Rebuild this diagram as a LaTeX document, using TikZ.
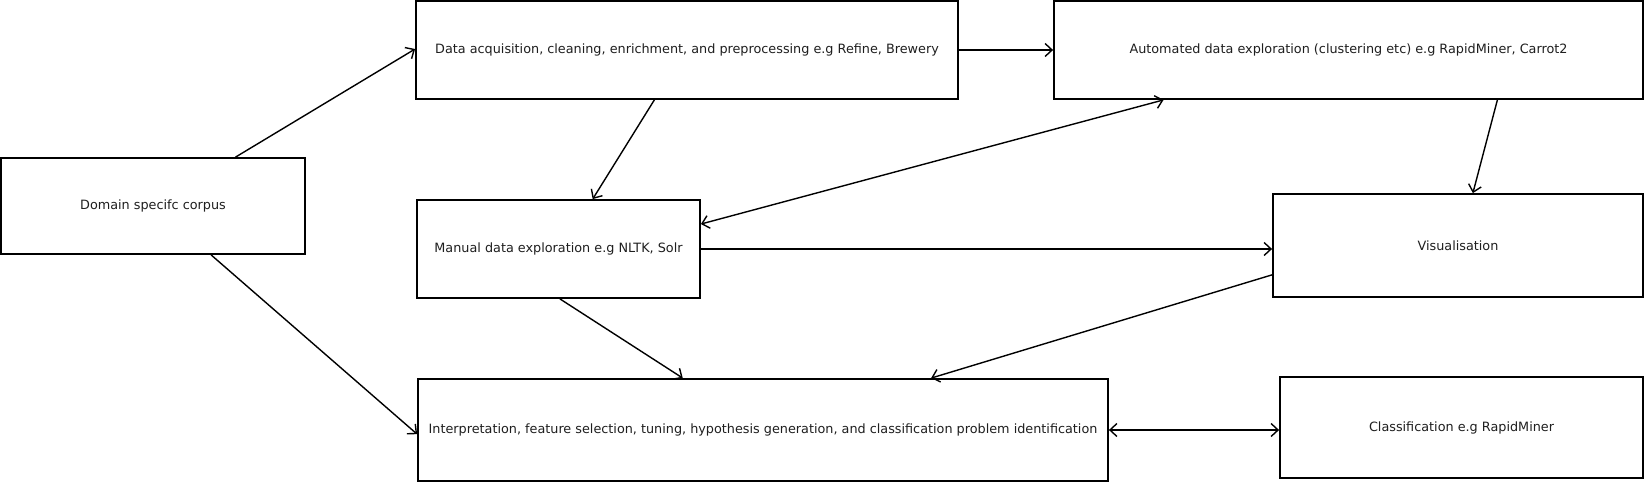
\documentclass[tikz,border=0pt]{standalone}
\usepackage{fontspec}
\setmainfont{DejaVu Sans}
\usetikzlibrary{arrows.meta,calc}
\begin{document}
\begin{tikzpicture}[x=1pt,y=-1pt,
  box/.style={draw, line width=1.8pt, rectangle, inner sep=0pt, font=\fontsize{12.8}{15}\selectfont, text=black!88},
  conn/.style={line width=1.4pt, -{Straight Barb[length=7pt,width=13pt,line width=1.4pt]}},
  biconn/.style={line width=1.4pt, {Straight Barb[length=7pt,width=13pt,line width=1.4pt]}-{Straight Barb[length=7pt,width=13pt,line width=1.4pt]}}]
\useasboundingbox[fill=white] (0,0) rectangle (1647,484);
\node[box, minimum width=304pt, minimum height=96pt] (dom) at (153,206) {Domain specifc corpus};
\node[box, minimum width=542pt, minimum height=98pt] (acq) at (687,50) {Data acquisition, cleaning, enrichment, and preprocessing e.g Refine, Brewery};
\node[box, minimum width=589pt, minimum height=98pt] (auto) at (1348.5,50) {Automated data exploration (clustering etc) e.g RapidMiner, Carrot2};
\node[box, minimum width=283pt, minimum height=98pt] (man) at (558.5,249) {Manual data exploration e.g NLTK, Solr};
\node[box, minimum width=370pt, minimum height=103pt] (vis) at (1458,245.5) {Visualisation};
\node[box, minimum width=690pt, minimum height=102pt] (int) at (763,430) {Interpretation, feature selection, tuning, hypothesis generation, and classification problem identification};
\node[box, minimum width=363pt, minimum height=101pt] (cls) at (1461.5,427.5) {Classification e.g RapidMiner};
% connectors
\draw[conn] ($(dom.north west)!0.77!(dom.north east)$) -- ($(acq.north west)!0.49!(acq.south west)$);
\draw[conn] ($(dom.south west)!0.69!(dom.south east)$) -- ($(int.north west)!0.54!(int.south west)$);
\draw[conn] ($(acq.south west)!0.44!(acq.south east)$) -- ($(man.north west)!0.62!(man.north east)$);
\draw[conn] (acq.east) -- (auto.west);
\draw[biconn] ($(man.north east)!0.25!(man.south east)$) -- ($(auto.south west)!0.187!(auto.south east)$);
\draw[conn] ($(auto.south west)!0.752!(auto.south east)$) -- ($(vis.north west)!0.54!(vis.north east)$);
\draw[conn] (man.east) -- (man.east -| vis.west);
\draw[conn] ($(man.south west)!0.505!(man.south east)$) -- ($(int.north west)!0.384!(int.north east)$);
\draw[conn] ($(vis.north west)!0.78!(vis.south west)$) -- ($(int.north west)!0.743!(int.north east)$);
\draw[biconn] (int.east) -- (int.east -| cls.west);
\end{tikzpicture}
\end{document}
